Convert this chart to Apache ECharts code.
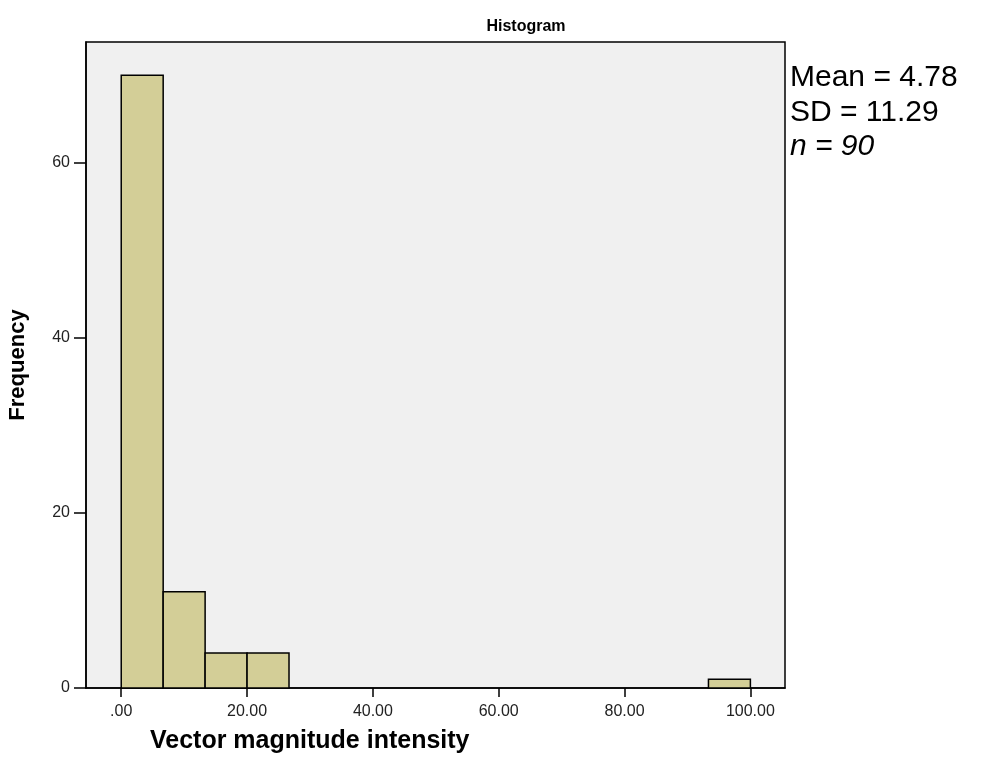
<!DOCTYPE html>
<html>
<head>
<meta charset="utf-8">
<script src="https://cdn.jsdelivr.net/npm/echarts@6/dist/echarts.min.js"></script>
<style>
html,body{margin:0;padding:0;background:#fff;}
#chart{width:994px;height:780px;}
</style>
</head>
<body>
<div id="chart"></div>
<script>
// Histogram bins (lower edge, upper edge) and frequencies
var binStarts = [0, 6.667, 13.333, 20, 26.667, 33.333, 40, 46.667, 53.333, 60, 66.667, 73.333, 80, 86.667, 93.333];
var binEnds   = [6.667, 13.333, 20, 26.667, 33.333, 40, 46.667, 53.333, 60, 66.667, 73.333, 80, 86.667, 93.333, 100];
var counts    = [70, 11, 4, 4, 0, 0, 0, 0, 0, 0, 0, 0, 0, 0, 1];
var xTicks = [0, 20, 40, 60, 80, 100];
var xTickLabels = ['.00', '20.00', '40.00', '60.00', '80.00', '100.00'];
var yTicks = [0, 20, 40, 60];
var statsLines = ['Mean = 4.78', 'SD = 11.29', 'n = 90'];

var data = [];
for (var i = 0; i < counts.length; i++) {
  if (counts[i] > 0) data.push([binStarts[i], binEnds[i], counts[i]]);
}

var chart = echarts.init(document.getElementById('chart'));
var font = 'Arial, "Liberation Sans", sans-serif';
var statFont = '30px Arial, "Liberation Sans", sans-serif';
chart.setOption({
  animation: false,
  backgroundColor: '#ffffff',
  title: {
    text: 'Histogram',
    left: 521, top: 14,
    textAlign: 'center',
    textStyle: {fontFamily: font, fontSize: 16, fontWeight: 'bold', color: '#000'}
  },
  grid: {
    left: 86, right: 209, top: 42, bottom: 92,
    containLabel: false,
    outerBoundsMode: 'none',
    show: true, backgroundColor: '#f0f0f0', borderColor: '#000', borderWidth: 1.5
  },
  graphic: [
    {type: 'text', x: 790, y: 78, style: {text: statsLines[0], font: statFont, fill: '#000', verticalAlign: 'middle'}},
    {type: 'text', x: 790, y: 113, style: {text: statsLines[1], font: statFont, fill: '#000', verticalAlign: 'middle'}},
    {type: 'text', x: 790, y: 147, style: {text: statsLines[2], font: 'italic ' + statFont, fill: '#000', verticalAlign: 'middle'}}
  ],
  xAxis: {
    type: 'value',
    min: -5.6, max: 105.5,
    name: 'Vector magnitude intensity',
    nameLocation: 'start',
    nameGap: 0,
    nameTextStyle: {fontFamily: font, fontSize: 25, fontWeight: 'bold', color: '#000', align: 'left', verticalAlign: 'top', padding: [41, 0, 0, 64]},
    axisLine: {show: true, onZero: false, lineStyle: {color: '#000', width: 1.5}},
    axisTick: {show: true, length: 9, customValues: xTicks, lineStyle: {color: '#000', width: 1.5}},
    axisLabel: {customValues: xTicks, formatter: function (v) { return xTickLabels[xTicks.indexOf(v)]; }, fontFamily: font, fontSize: 16, color: '#222', margin: 16},
    splitLine: {show: false}
  },
  yAxis: {
    type: 'value',
    min: 0, max: 73.8,
    name: 'Frequency',
    nameLocation: 'middle',
    nameGap: 57,
    nameTextStyle: {fontFamily: font, fontSize: 22, fontWeight: 'bold', color: '#000'},
    axisLine: {show: true, onZero: false, lineStyle: {color: '#000', width: 1.5}},
    axisTick: {show: true, length: 12, customValues: yTicks, lineStyle: {color: '#000', width: 1.5}},
    axisLabel: {customValues: yTicks, fontFamily: font, fontSize: 16, color: '#222', margin: 16},
    splitLine: {show: false}
  },
  series: [{
    type: 'custom',
    data: data,
    encode: {x: [0, 1], y: 2},
    renderItem: function (params, api) {
      var p0 = api.coord([api.value(0), 0]);
      var p1 = api.coord([api.value(1), api.value(2)]);
      return {
        type: 'rect',
        shape: {x: p0[0], y: p1[1], width: p1[0] - p0[0], height: p0[1] - p1[1]},
        style: {fill: '#d3ce97', stroke: '#000', lineWidth: 1.5}
      };
    }
  }]
});
</script>
</body>
</html>
